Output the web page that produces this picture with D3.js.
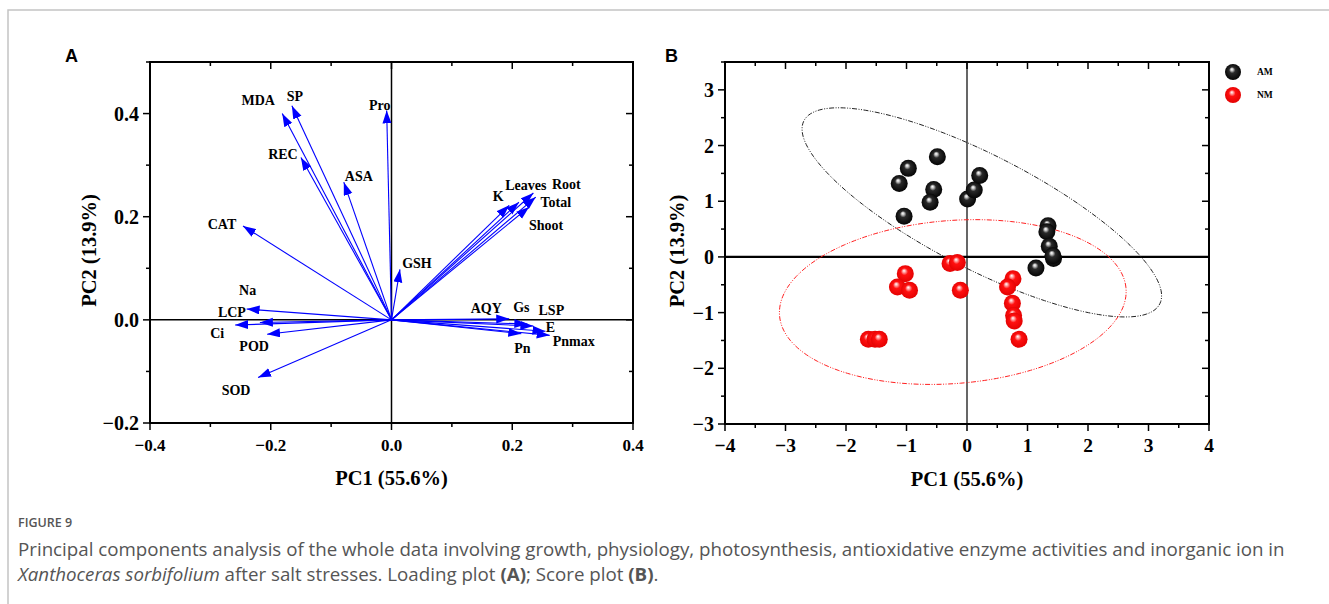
<!DOCTYPE html>
<html>
<head>
<meta charset="utf-8">
<script src="https://cdn.jsdelivr.net/npm/d3@7"></script>
<style>
  body { margin: 0; background: #fff; }
  .serif { font-family: "Liberation Serif", "Times New Roman", serif; }
  .caption { font-family: "Open Sans", "Noto Sans", sans-serif; fill: #555; }
</style>
</head>
<body>
<div id="chart"></div>
<script>
// ---- loading plot (A) ----
const loadNames = ["MDA", "SP", "REC", "ASA", "Pro", "CAT", "GSH", "K", "Leaves", "Root", "Total", "Shoot",
                   "AQY", "Gs", "LSP", "E", "Pnmax", "Pn", "Na", "LCP", "Ci", "POD", "SOD"];
const loadPC1 = [-0.181, -0.165, -0.150, -0.079, -0.008, -0.246, 0.014, 0.195, 0.211, 0.235, 0.239, 0.228,
                 0.195, 0.225, 0.235, 0.255, 0.262, 0.215, -0.240, -0.218, -0.259, -0.206, -0.221];
const loadPC2 = [0.400, 0.415, 0.315, 0.267, 0.406, 0.182, 0.098, 0.222, 0.228, 0.246, 0.238, 0.219,
                 0.002, -0.008, -0.012, -0.022, -0.030, -0.027, 0.021, -0.005, -0.010, -0.028, -0.112];
// pixel offsets of each label from its arrow tip
const labelShift = [[-24, -13], [3, -10], [-18, -3], [15, -6], [-7, -5], [-21, -2], [17, -6], [-11, -9], [7, -17],
                    [33, -9], [20, 5], [17, 18], [-23, -11], [-6, -17], [18, -16], [5, -4], [24, 6], [1, 14],
                    [1, -19], [-28, -10], [-18, 8], [-13, 12], [-22, 12]];

// ---- score plot (B) ----
const amPC1 = [-1.12, -0.97, -0.49, -0.55, -0.61, -1.04, 0.01, 0.12, 0.21, 1.34, 1.32, 1.36, 1.43, 1.14, 1.42];
const amPC2 = [1.32, 1.59, 1.80, 1.21, 0.98, 0.73, 1.04, 1.20, 1.46, 0.56, 0.45, 0.19, -0.03, -0.20, 0.02];
const nmPC1 = [-1.02, -1.15, -0.95, -0.28, -0.16, -0.11, 0.76, 0.67, 0.75, 0.77, 0.78, 0.86, -1.63, -1.52, -1.45];
const nmPC2 = [-0.30, -0.54, -0.60, -0.12, -0.10, -0.60, -0.39, -0.54, -0.83, -1.05, -1.15, -1.48, -1.48, -1.48, -1.48];
const groups = ["AM", "NM"];
// confidence ellipses: centre, semi-axes, rotation (deg, data space)
const ellCenter = [[0.245, 0.80], [-0.235, -0.81]];
const ellAxes = [[3.37, 1.0], [2.874, 1.463]];
const ellAngle = [-29.6, 5.1];

const xTicksA = [-0.4, -0.2, 0.0, 0.2, 0.4];
const yTicksA = [-0.2, 0.0, 0.2, 0.4];
const xTicksB = [-4, -3, -2, -1, 0, 1, 2, 3, 4];
const yTicksB = [-3, -2, -1, 0, 1, 2, 3];

const W = 1329, H = 604;
const svg = d3.select("#chart").append("svg").attr("width", W).attr("height", H);

const defs = svg.append("defs");
defs.append("marker")
    .attr("id", "head")
    .attr("markerUnits", "userSpaceOnUse")
    .attr("markerWidth", 14).attr("markerHeight", 10)
    .attr("refX", 13).attr("refY", 4.5)
    .attr("orient", "auto")
    .append("path").attr("d", "M0,0 L13,4.5 L0,9 Z").attr("fill", "#0000ff");

function sphere(id, stops) {
    const g = defs.append("radialGradient").attr("id", id)
        .attr("cx", "50%").attr("cy", "50%").attr("r", "55%")
        .attr("fx", "42%").attr("fy", "32%");
    stops.forEach(s => g.append("stop").attr("offset", s[0]).attr("stop-color", s[1]));
}
sphere("ballAM", [["0%", "#ffffff"], ["14%", "#c8c8c8"], ["35%", "#2a2a2a"], ["100%", "#000000"]]);
sphere("ballNM", [["0%", "#ffffff"], ["14%", "#ffb0b0"], ["38%", "#ff1010"], ["100%", "#e00000"]]);

// figure border
svg.append("path").attr("d", `M8,${H} L8,10 L${W},10`)
    .attr("fill", "none").attr("stroke", "#c4c4c4").attr("stroke-width", 1.5);

function frame(g, x, y, xTicks, yTicks, xMinor, yMinor, fmt, fx, fy) {
    const [x0, x1] = x.range(), [y0, y1] = y.range();
    const tk = g.append("g").attr("stroke", "#000").attr("stroke-width", 1.5);
    xMinor.forEach(v => {
        const big = xTicks.some(t => Math.abs(t - v) < 1e-9), L = big ? 7 : 4;
        tk.append("line").attr("x1", x(v)).attr("x2", x(v)).attr("y1", y0).attr("y2", y0 + L);
        tk.append("line").attr("x1", x(v)).attr("x2", x(v)).attr("y1", y1).attr("y2", y1 + L);
    });
    yMinor.forEach(v => {
        const big = yTicks.some(t => Math.abs(t - v) < 1e-9), L = big ? 7 : 4;
        tk.append("line").attr("x1", x0 - L).attr("x2", x0).attr("y1", y(v)).attr("y2", y(v));
        tk.append("line").attr("x1", x1 - L).attr("x2", x1).attr("y1", y(v)).attr("y2", y(v));
    });
    g.append("rect").attr("x", x0).attr("y", y1).attr("width", x1 - x0).attr("height", y0 - y1)
        .attr("fill", "none").attr("stroke", "#000").attr("stroke-width", 2);
    g.selectAll(".xt").data(xTicks).join("text").attr("class", "serif")
        .attr("x", d => x(d)).attr("y", y0 + 28).attr("text-anchor", "middle")
        .attr("font-size", fx).attr("font-weight", "bold").text(fmt);
    g.selectAll(".yt").data(yTicks).join("text").attr("class", "serif")
        .attr("x", x0 - 11).attr("y", d => y(d)).attr("dy", "0.35em").attr("text-anchor", "end")
        .attr("font-size", fy).attr("font-weight", "bold").text(fmt);
}

function titles(g, x, y, letter, lx, ylabX) {
    const [x0, x1] = x.range(), [y0, y1] = y.range();
    g.append("text").attr("class", "serif").attr("x", (x0 + x1) / 2).attr("y", y0 + 62).attr("text-anchor", "middle")
        .attr("font-size", 20.5).attr("font-weight", "bold").text("PC1 (55.6%)");
    g.append("text").attr("class", "serif").attr("transform", `translate(${ylabX},${(y0 + y1) / 2 + 8}) rotate(-90)`)
        .attr("text-anchor", "middle").attr("font-size", 20.5).attr("font-weight", "bold").text("PC2 (13.9%)");
    g.append("text").attr("x", lx).attr("y", 62)
        .style("font-family", "'Liberation Sans', Arial, sans-serif")
        .attr("font-size", 18).attr("font-weight", "bold").text(letter);
}

// ---------------- panel A ----------------
const gA = svg.append("g");
const xA = d3.scaleLinear().domain([-0.4, 0.4]).range([150, 633]);
const yA = d3.scaleLinear().domain([-0.2, 0.5]).range([423, 62]);
const fmtA = d => d3.format(".1f")(d);

gA.append("line").attr("x1", xA(0)).attr("x2", xA(0)).attr("y1", yA(0.5)).attr("y2", yA(-0.2))
    .attr("stroke", "#000").attr("stroke-width", 1.5);
gA.append("line").attr("x1", xA(-0.4)).attr("x2", xA(0.4)).attr("y1", yA(0)).attr("y2", yA(0))
    .attr("stroke", "#000").attr("stroke-width", 1.5);
frame(gA, xA, yA, xTicksA, yTicksA, d3.range(-4, 5).map(d => d / 10), d3.range(-2, 6).map(d => d / 10), fmtA, 17, 20);
titles(gA, xA, yA, "A", 65, 96);

const loads = loadNames.map((n, i) => ({ name: n, x: loadPC1[i], y: loadPC2[i], s: labelShift[i] }));
gA.selectAll(".arrow").data(loads).join("line")
    .attr("x1", xA(0)).attr("y1", yA(0))
    .attr("x2", d => xA(d.x)).attr("y2", d => yA(d.y))
    .attr("stroke", "#0000ff").attr("stroke-width", 1.1)
    .attr("marker-end", "url(#head)");
gA.selectAll(".lab").data(loads).join("text").attr("class", "serif")
    .attr("x", d => xA(d.x) + d.s[0]).attr("y", d => yA(d.y) + d.s[1]).attr("dy", "0.35em")
    .attr("text-anchor", "middle").attr("font-size", 14).attr("font-weight", "bold").text(d => d.name);

// ---------------- panel B ----------------
const gB = svg.append("g");
const xB = d3.scaleLinear().domain([-4, 4]).range([725, 1209]);
const yB = d3.scaleLinear().domain([-3, 3.5]).range([424, 62]);
const fmtB = d => d3.format("d")(d);

gB.append("line").attr("x1", xB(0)).attr("x2", xB(0)).attr("y1", yB(3.5)).attr("y2", yB(-3))
    .attr("stroke", "#000").attr("stroke-width", 1.2);
gB.append("line").attr("x1", xB(-4)).attr("x2", xB(4)).attr("y1", yB(0)).attr("y2", yB(0))
    .attr("stroke", "#000").attr("stroke-width", 2.2);

const ellColors = ["#222", "#ff2020"];
ellCenter.forEach((c, k) => {
    const a = ellAxes[k][0], b = ellAxes[k][1], th = ellAngle[k] * Math.PI / 180;
    const pts = d3.range(0, 361, 2).map(t => {
        const r = t * Math.PI / 180;
        return [c[0] + a * Math.cos(r) * Math.cos(th) - b * Math.sin(r) * Math.sin(th),
                c[1] + a * Math.cos(r) * Math.sin(th) + b * Math.sin(r) * Math.cos(th)];
    });
    gB.append("path").datum(pts)
        .attr("d", d3.line().x(p => xB(p[0])).y(p => yB(p[1])))
        .attr("fill", "none").attr("stroke", ellColors[k]).attr("stroke-width", 1)
        .attr("stroke-dasharray", "5,1.5,1,1.5,1,1.5");
});

frame(gB, xB, yB, xTicksB, yTicksB, d3.range(-8, 9).map(d => d / 2), d3.range(-6, 8).map(d => d / 2), fmtB, 19.5, 20);
titles(gB, xB, yB, "B", 665, 684);

const amPts = amPC1.map((v, i) => ({ x: v, y: amPC2[i] }));
const nmPts = nmPC1.map((v, i) => ({ x: v, y: nmPC2[i] }));
gB.selectAll(".nm").data(nmPts).join("circle")
    .attr("cx", d => xB(d.x)).attr("cy", d => yB(d.y)).attr("r", 8.5).attr("fill", "url(#ballNM)");
gB.selectAll(".am").data(amPts).join("circle")
    .attr("cx", d => xB(d.x)).attr("cy", d => yB(d.y)).attr("r", 8.5).attr("fill", "url(#ballAM)");

// legend
const leg = gB.append("g").attr("transform", "translate(1233,72)");
groups.forEach((gname, i) => {
    leg.append("circle").attr("cx", 0).attr("cy", i * 23).attr("r", 8)
        .attr("fill", i === 0 ? "url(#ballAM)" : "url(#ballNM)");
    leg.append("text").attr("class", "serif").attr("x", 24).attr("y", i * 23).attr("dy", "0.35em")
        .attr("font-size", 9.5).attr("font-weight", "bold").text(gname);
});

// ---------------- caption ----------------
svg.append("text").attr("class", "caption").attr("x", 18).attr("y", 527)
    .attr("font-size", 12.5).attr("font-weight", 600).text("FIGURE 9");
// body text is a touch wider than Open Sans at this size, stretch a little
const cap = svg.append("g").attr("transform", "translate(18,0) scale(1.07,1)");
cap.append("text").attr("class", "caption").attr("x", 0).attr("y", 556)
    .attr("font-size", 17.5)
    .text("Principal components analysis of the whole data involving growth, physiology, photosynthesis, antioxidative enzyme activities and inorganic ion in");
const cap2 = cap.append("text").attr("class", "caption").attr("x", 0).attr("y", 581).attr("font-size", 17.5);
cap2.append("tspan").attr("font-style", "italic").text("Xanthoceras sorbifolium");
cap2.append("tspan").text(" after salt stresses. Loading plot ");
cap2.append("tspan").attr("font-weight", "bold").text("(A)");
cap2.append("tspan").text("; Score plot ");
cap2.append("tspan").attr("font-weight", "bold").text("(B)");
cap2.append("tspan").text(".");
</script>
</body>
</html>
